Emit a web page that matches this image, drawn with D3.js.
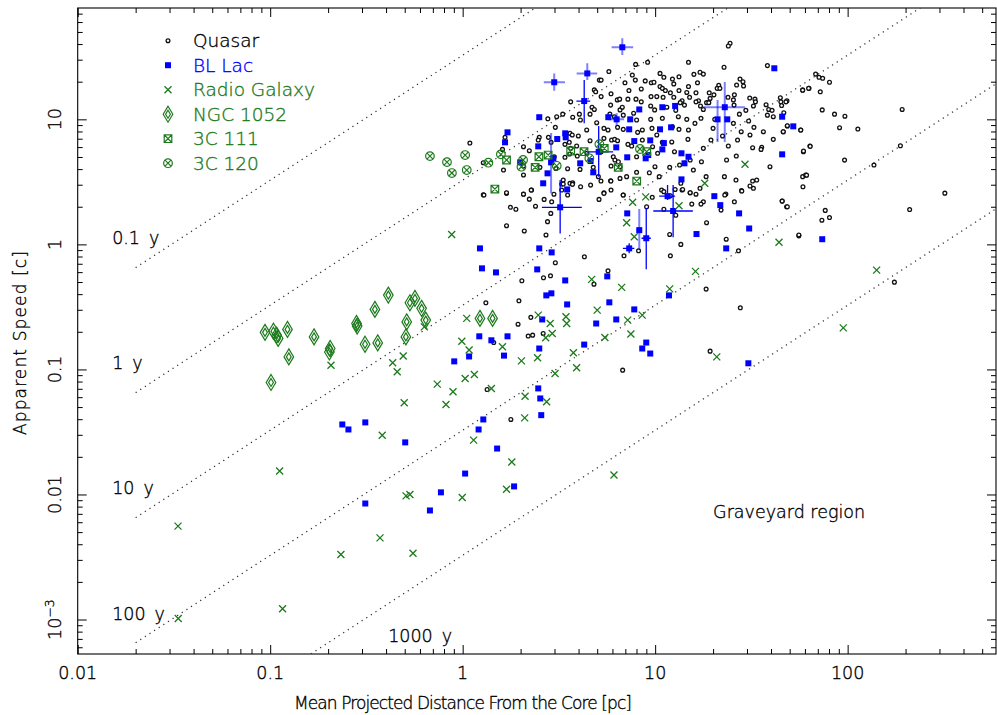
<!DOCTYPE html>
<html><head><meta charset="utf-8">
<script src="https://cdn.jsdelivr.net/npm/d3@7"></script>
<style>
body{margin:0;background:#fff;}
svg text{font-family:"DejaVu Sans",sans-serif;font-weight:200;stroke:currentColor;stroke-width:0.35px;}
</style></head><body>
<svg id="c" width="997" height="715"></svg>
<script>
// ---------- DATA: [mean projected distance (pc), apparent speed (c)] ----------
const quasars = [
[24.5,40.6],[24.0,38.6],[7.92,27.5],[9.14,28.6],[14.9,28.6],[38.3,26.9],[22.8,26.1],[5.75,24.1],[7.61,22.6],[10.6,23.3],
[13.3,21.9],[15.9,22.9],[17.1,23.8],[17.8,23.0],[27.6,21.0],[28.6,20.0],[68.2,23.0],[5.13,20.6],[5.24,20.6],[6.97,19.6],
[7.89,20.6],[8.88,20.3],[9.55,19.6],[9.86,19.8],[11.1,21.7],[12.3,21.0],[12.5,19.2],[14.9,18.3],[16.6,19.6],[21.4,18.7],
[21.0,17.7],[21.7,17.7],[26.5,18.8],[28.8,18.5],[4.83,17.2],[4.91,16.6],[5.90,16.0],[7.31,17.0],[8.47,17.5],[10.6,18.3],
[10.9,17.7],[11.3,17.0],[13.3,17.0],[14.6,16.4],[16.3,16.3],[19.1,16.3],[20.2,15.7],[25.8,15.7],[31.0,14.8],[33.0,14.5],
[44.7,14.9],[58.4,17.2],[63.0,17.7],[5.24,15.2],[6.36,14.3],[6.54,14.5],[7.22,14.5],[7.95,14.5],[8.47,13.8],[9.52,15.2],
[10.2,15.2],[11.0,15.0],[12.0,16.3],[12.5,15.0],[13.8,14.1],[15.1,15.0],[16.8,14.1],[18.5,13.6],[19.3,14.7],[23.9,15.0],
[25.5,14.3],[33.2,13.8],[45.0,13.8],[48.4,14.1],[3.64,13.8],[4.04,11.0],[4.70,12.5],[4.83,12.0],[5.87,13.0],[6.57,11.9],
[6.75,12.5],[9.48,12.8],[9.94,11.9],[11.5,12.5],[12.8,11.8],[13.5,13.6],[14.2,13.0],[16.3,13.8],[17.2,12.8],[17.8,12.0],
[19.0,13.6],[25.7,13.0],[29.6,11.8],[32.4,12.8],[37.7,13.1],[38.9,12.0],[40.5,11.8],[45.4,12.9],[2.77,10.1],[3.08,10.5],
[3.31,11.0],[3.73,10.4],[4.09,9.88],[4.59,11.0],[5.82,11.0],[6.14,10.5],[6.83,10.8],[7.73,11.2],[8.01,9.88],[9.48,10.0],
[10.9,10.2],[13.2,10.5],[14.6,10.0],[17.3,10.2],[20.4,10.0],[27.4,11.0],[30.6,9.70],[38.3,10.8],[41.1,10.5],[48.6,8.85],
[2.50,7.18],[2.79,7.18],[3.03,8.63],[3.61,7.73],[3.71,7.50],[3.99,7.36],[4.41,8.22],[4.97,9.40],[5.42,8.47],[5.69,8.22],
[6.38,8.63],[6.83,8.32],[8.11,7.87],[8.58,8.22],[9.63,8.47],[10.2,7.50],[12.3,8.73],[13.3,8.32],[14.9,8.22],[16.1,9.29],
[20.0,8.47],[22.4,7.36],[25.5,9.29],[28.0,7.96],[31.1,7.50],[32.6,8.63],[36.5,7.96],[41.1,6.92],[46.3,7.96],[57.0,8.22],
[1.66,7.18],[2.07,6.04],[2.47,6.83],[2.88,6.55],[3.40,6.31],[3.58,6.55],[3.64,5.86],[3.91,6.12],[4.59,6.75],[5.42,7.05],
[5.94,6.83],[6.16,6.92],[6.38,6.75],[7.22,6.31],[7.55,6.12],[8.58,6.83],[9.70,6.04],[10.9,6.55],[12.2,6.59],[14.8,6.92],
[17.8,5.86],[19.5,6.83],[24.0,6.12],[26.8,6.83],[32.1,5.93],[35.8,5.97],[63.7,6.12],[58.9,5.51],[1.61,5.75],[2.22,5.61],
[2.99,5.02],[3.40,4.97],[3.59,5.28],[3.94,5.09],[4.42,5.35],[5.24,5.51],[6.06,5.02],[6.18,4.73],[6.44,4.58],[8.01,5.02],
[10.3,5.35],[12.6,5.51],[13.7,5.35],[15.2,4.73],[17.4,4.58],[26.4,5.09],[35.5,5.75],[1.28,4.50],[1.63,3.93],[2.07,4.23],
[2.52,4.13],[3.05,4.05],[3.51,4.03],[4.07,3.98],[4.77,4.13],[5.90,4.23],[6.57,4.18],[8.01,3.77],[9.98,4.18],[11.9,4.13],
[13.4,4.31],[15.8,3.93],[23.5,4.73],[39.5,4.18],[2.07,3.59],[3.27,3.04],[3.33,3.27],[3.61,3.08],[3.73,3.11],[5.07,3.48],
[5.87,3.23],[6.57,3.37],[7.11,3.48],[9.33,3.74],[10.5,3.48],[13.6,3.08],[18.4,3.48],[22.9,3.48],[26.3,3.27],[33.7,3.27],
[58.4,3.48],[60.5,3.59],[1.28,2.49],[1.69,2.56],[2.07,2.53],[2.28,2.72],[3.27,2.72],[3.51,2.48],[4.10,2.89],[5.42,2.59],
[5.90,2.72],[6.83,2.48],[10.8,2.72],[12.7,2.75],[13.8,2.72],[15.2,2.59],[17.1,2.81],[23.3,2.53],[28.1,2.69],[32.4,2.81],
[1.29,2.48],[1.69,2.59],[2.07,2.52],[2.22,2.30],[2.27,2.72],[2.39,2.02],[2.65,2.29],[2.90,2.19],[2.98,2.52],[3.33,3.04],
[3.72,3.02],[4.62,2.98],[5.23,3.21],[5.89,3.21],[5.11,2.29],[5.42,2.56],[6.82,2.48],[1.77,1.98],[1.89,1.91],[1.69,1.41],
[2.09,1.28],[2.76,1.52],[2.87,1.77],[2.71,1.19],[4.29,0.796],[3.03,0.713],[5.69,0.615],[4.81,0.481],[2.86,0.561],[2.63,0.541],
[2.03,0.512],[1.96,0.354],[1.32,0.341],[2.26,0.261],[1.94,0.230],[2.19,0.185],[2.31,0.188],[2.62,0.194],[1.45,0.164],[6.78,0.0987],
[6.89,0.811],[8.20,0.889],[9.03,2.00],[9.66,2.38],[11.1,2.64],[12.0,2.45],[13.9,2.75],[15.2,2.59],[16.3,2.52],[15.5,2.10],
[17.8,2.19],[17.3,2.10],[23.0,2.48],[25.8,2.19],[28.2,2.67],[31.1,2.93],[32.1,3.21],[22.0,1.88],[18.5,1.49],[23.4,1.10],
[27.1,0.889],[11.9,1.20],[13.6,1.00],[12.0,0.811],[18.4,0.439],[27.7,0.311],[19.3,0.140],[45.7,2.22],[48.2,2.00],[55.8,1.17],
[11.1,1.91],[12.8,1.71],[71.0,21.7],[74.2,21.3],[80.5,19.8],[58.4,17.1],[62.7,17.7],[72.1,16.6],[47.8,13.8],[46.6,11.3],
[73.8,11.9],[85.5,11.0],[96.8,10.6],[48.6,8.89],[46.3,7.96],[57.1,8.21],[90.8,8.57],[113,8.36],[192,12.0],[59.0,5.57],
[63.9,6.08],[96.4,4.72],[61.2,3.58],[58.6,2.89],[45.7,2.22],[48.6,2.00],[76.5,1.87],[80.5,1.64],[73.5,1.56],[55.8,1.19],
[188,6.15],[137,4.31],[320,2.57],[210,1.90],[175,0.499],[1.09,6.46],[1.34,0.0691],[1.78,0.0398]
];
const blLacs = [
[6.75,37.7],[4.44,23.3],[2.99,19.8],[4.28,14.0],[41.6,25.6],[2.50,10.4],[1.71,7.87],[1.66,6.55],[2.47,6.08],[3.10,6.96],
[3.41,7.73],[3.43,7.18],[5.71,10.4],[6.31,10.0],[7.42,10.0],[8.27,12.0],[10.9,12.5],[12.7,12.8],[10.6,8.32],[12.1,8.63],
[7.33,8.32],[7.79,6.70],[9.43,6.79],[11.1,6.46],[10.9,5.75],[6.28,5.97],[5.09,5.50],[7.16,4.97],[8.93,4.88],[9.21,5.18],
[13.7,5.35],[14.9,5.02],[14.2,4.45],[23.0,12.5],[21.1,10.0],[23.7,10.0],[45.7,10.5],[52.2,8.79],[45.7,5.25],[13.7,3.31],
[20.3,2.43],[11.6,2.43],[2.96,4.88],[2.88,4.53],[2.76,3.70],[2.62,3.08],[3.49,2.75],[4.08,4.45],[4.62,4.64],[4.77,3.77],
[1.99,4.53],[3.21,1.98],[21.8,2.06],[27.3,1.77],[30.8,1.34],[16.4,1.21],[23.4,0.929],[7.16,1.77],[8.27,1.30],[8.99,1.12],
[7.33,0.929],[12.4,1.85],[2.50,0.929],[2.90,0.863],[1.23,0.929],[1.26,0.643],[1.49,0.597],[2.44,0.631],[3.41,0.515],[5.64,0.555],
[2.72,0.391],[2.89,0.406],[3.49,0.331],[5.78,0.344],[7.79,0.302],[11.8,0.391],[2.59,0.251],[4.94,0.233],[6.28,0.251],[1.22,0.184],
[1.41,0.171],[1.71,0.184],[2.50,0.147],[1.64,0.129],[1.08,0.127],[0.904,0.116],[4.28,0.158],[8.99,0.164],[8.57,0.147],[9.43,0.134],
[30.5,0.112],[0.237,0.0363],[0.255,0.0331],[0.312,0.0377],[0.503,0.0261],[0.312,0.00847],[0.676,0.00745],[0.771,0.0104],[1.03,0.0147],[1.28,0.0398],
[1.21,0.0331],[1.51,0.0233],[1.85,0.0116],[2.47,0.0705],[2.53,0.0586],[2.56,0.0431],[73.8,1.10]
];
// BL Lac error bars: [d, speed, dLow, dHigh, speedLow, speedHigh]
const blLacErrorsFaint = [
[6.75,37.7,5.94,7.69,32.7,44.5],[4.44,23.3,3.91,5.0,20.6,28.1],[2.99,19.8,2.64,3.40,16.9,23.3],
[6.31,10.0,5.7,6.9,8.9,11.2],[23.0,12.5,17.7,29.3,6.58,19.9],[21.1,10.0,20.5,21.7,6.58,14.3],
[2.88,4.53,2.8,2.96,2.57,7.76],[8.27,1.30,8.0,8.5,0.90,1.92]
];
const blLacErrorsSolid = [
[4.28,14.0,3.9,4.6,9.29,20.6],[5.09,5.50,4.41,6.05,3.47,8.84],[3.21,1.98,2.58,4.16,1.22,3.27],
[8.99,1.12,8.5,9.5,0.634,1.95],[7.33,0.929,6.8,7.8,0.85,1.02],[12.4,1.85,9.78,15.7,1.14,2.98],
[11.6,2.43,10.5,12.7,2.26,2.99]
];
const radioGalaxies = [
[0.877,1.20],[4.68,0.525],[6.70,0.453],[5.00,0.298],[7.20,0.248],[8.57,0.272],[7.48,0.192],[5.48,0.180],[3.44,0.264],[3.47,0.233],
[2.85,0.233],[2.47,0.272],[2.92,0.194],[2.70,0.179],[3.76,0.136],[3.91,0.103],[3.02,0.0929],[2.45,0.124],[2.02,0.117],[1.61,0.152],
[1.08,0.143],[0.99,0.168],[1.05,0.256],[1.15,0.0912],[1.03,0.0847],[0.491,0.128],[11.9,0.441],[16.2,0.608],[44.0,1.04],[20.9,0.126],
[7.11,1.49],[7.79,1.15],[7.64,2.17],[8.93,2.40],[13.3,2.04],[18.1,3.08],[0.632,0.219],[29.3,4.37],[0.457,0.0957],[0.738,0.0763],
[0.891,0.0662],[1.41,0.0705],[0.497,0.0541],[0.819,0.0525],[2.11,0.0611],[2.73,0.0551],[2.10,0.0410],[0.382,0.0298],[1.14,0.0272],[1.80,0.0182],
[1.69,0.0110],[0.508,0.00975],[0.532,0.0100],[0.995,0.00946],[0.112,0.0154],[0.0332,0.00558],[0.372,0.00450],[0.233,0.00331],[0.552,0.00339],[0.116,0.00122],
[0.0333,0.00102],[0.207,0.108],[0.433,0.113],[141.5,0.623],[94.9,0.215],[6.11,0.0143]
];
const ngc1052 = [
[0.094,0.198],[0.104,0.202],[0.108,0.188],[0.110,0.177],[0.123,0.209],[0.125,0.126],[0.101,0.0787],[0.169,0.182],[0.205,0.147],[0.203,0.138],
[0.281,0.233],[0.283,0.222],[0.311,0.159],[0.350,0.302],[0.362,0.163],[0.411,0.393],[0.512,0.240],[0.507,0.182],[0.532,0.341],[0.565,0.370],
[0.612,0.308],[0.643,0.248],[1.23,0.256],[1.43,0.256]
];
const c3c111 = [
[1.47,2.77],[1.69,4.73],[2.38,4.13],[2.49,5.02],[2.78,5.18],[3.64,5.58],[4.27,5.51],[5.44,5.86],[6.43,4.13],[8.02,3.21],[9.04,5.51]
];
const c3c120 = [
[0.676,5.08],[0.829,4.55],[0.879,3.72],[1.03,5.18],[1.05,3.93],[1.36,4.50],[1.58,5.25],[2.02,4.18],[2.06,4.73],[3.08,4.25],
[4.55,4.88],[5.13,6.34],[8.34,5.79]
];
// reference lines of constant time (years): speed = d[pc] * 3.2616 / t
const lineTimes = [0.1, 1, 10, 100, 1000];
const lineLabels = ["0.1", "1", "10", "100", "1000"];
const xTickValues = [0.01, 0.1, 1, 10, 100];
const xTickLabels = ["0.01", "0.1", "1", "10", "100"];
const yTickValues = [0.001, 0.01, 0.1, 1, 10];
const yTickLabels = ["10^-3", "0.01", "0.1", "1", "10"];
const legendNames = ["Quasar", "BL Lac", "Radio Galaxy", "NGC 1052", "3C 111", "3C 120"];

// ---------- LAYOUT ----------
const BLUE = "#0000ff", GREEN = "#1c7a1c";
const L = 77.7, R = 996, T = 8, B = 654;
const svg = d3.select("#c");
const x = d3.scaleLog().domain([0.01, 590]).range([L, R]);
const y = d3.scaleLog().domain([5.3e-4, 77.7]).range([B, T]);

svg.append("defs").append("clipPath").attr("id", "plot")
  .append("rect").attr("x", L).attr("y", T).attr("width", R - L).attr("height", B - T);

function minors(scale) {
  const [a, b] = scale.domain(); const out = [];
  for (let e = Math.floor(Math.log10(a)); e <= Math.ceil(Math.log10(b)); e++)
    for (let k = 2; k <= 9; k++) { const v = k * Math.pow(10, e); if (v > a && v < b) out.push(v); }
  return out;
}
const xMin = minors(x), yMin = minors(y);
function axisG(gen, tr) {
  const g = svg.append("g").attr("transform", tr).call(gen);
  g.select(".domain").remove();
  g.selectAll("line").attr("stroke", "#000").attr("stroke-width", 1);
  return g;
}
axisG(d3.axisBottom(x).tickValues(xTickValues).tickSize(-9).tickFormat(""), `translate(0,${B})`);
axisG(d3.axisBottom(x).tickValues(xMin).tickSize(-5).tickFormat(""), `translate(0,${B})`);
axisG(d3.axisTop(x).tickValues(xTickValues).tickSize(-9).tickFormat(""), `translate(0,${T})`);
axisG(d3.axisTop(x).tickValues(xMin).tickSize(-5).tickFormat(""), `translate(0,${T})`);
axisG(d3.axisLeft(y).tickValues(yTickValues).tickSize(-9).tickFormat(""), `translate(${L},0)`);
axisG(d3.axisLeft(y).tickValues(yMin).tickSize(-5).tickFormat(""), `translate(${L},0)`);
axisG(d3.axisRight(y).tickValues(yTickValues).tickSize(-9).tickFormat(""), `translate(${R},0)`);
axisG(d3.axisRight(y).tickValues(yMin).tickSize(-5).tickFormat(""), `translate(${R},0)`);
svg.append("rect").attr("x", L).attr("y", T).attr("width", R - L).attr("height", B - T)
  .attr("fill", "none").attr("stroke", "#000").attr("stroke-width", 1.1);

// tick labels
svg.append("g").selectAll("text").data(xTickValues).join("text")
  .attr("x", d => x(d)).attr("y", 679).attr("text-anchor", "middle")
  .attr("font-size", 17.5).attr("fill", "#000").attr("color", "#000").text((d, i) => xTickLabels[i]);
const yl = svg.append("g").selectAll("text").data(yTickValues).join("text")
  .attr("transform", d => `translate(61,${y(d)}) rotate(-90)`).attr("text-anchor", "middle")
  .attr("font-size", 17.5).attr("fill", "#000").attr("color", "#000");
yl.each(function (d, i) {
  const t = d3.select(this), lab = yTickLabels[i];
  if (lab.includes("^")) {
    const [b, e] = lab.split("^");
    t.append("tspan").text(b);
    t.append("tspan").attr("dy", -7).attr("font-size", 12.5).text(e.replace("-", "\u2212"));
  } else t.text(lab);
});
// axis titles
svg.append("text").attr("x", 463).attr("y", 709).attr("text-anchor", "middle").attr("color", "#000")
  .attr("font-size", 17).attr("textLength", 338).attr("lengthAdjust", "spacing")
  .text("Mean Projected Distance From the Core [pc]");
svg.append("text").attr("transform", "translate(26,343) rotate(-90)").attr("text-anchor", "middle").attr("color", "#000")
  .attr("font-size", 17).attr("textLength", 184).attr("lengthAdjust", "spacing")
  .text("Apparent Speed [c]");

const plot = svg.append("g").attr("clip-path", "url(#plot)");
// constant-time lines
const lineGen = d3.line().x(p => x(p[0])).y(p => y(p[1]));
plot.append("g").selectAll("path").data(lineTimes).join("path")
  .attr("d", t => lineGen([[0.02, 0.02 * 3.2616 / t], [590, 590 * 3.2616 / t]]))
  .attr("fill", "none").attr("stroke", "#333").attr("stroke-width", 1.3)
  .attr("stroke-dasharray", "1.2,4.3");
// line labels
const labPos = [[0.0151, 1], [0.0151, 0.1], [0.0151, 0.01], [0.0151, 0.001], [0.41, 6.6e-4]];
lineTimes.forEach((t, i) => {
  const tx = svg.append("text").attr("x", x(labPos[i][0])).attr("y", y(labPos[i][1]))
    .attr("font-size", 17.5).attr("fill", "#000").attr("color", "#000");
  tx.append("tspan").text(lineLabels[i]);
  tx.append("tspan").attr("dx", 9).text("y");
});
svg.append("text").attr("x", x(20)).attr("y", y(0.0065)).attr("font-size", 17.5).attr("color", "#000").text("Graveyard region");

// symbols
const sym = {
  quasar: g => g.append("circle").attr("r", 1.9).attr("fill", "#fff").attr("stroke", "#111").attr("stroke-width", 1.3),
  bllac: g => g.append("rect").attr("x", -3).attr("y", -3).attr("width", 6).attr("height", 6).attr("fill", BLUE),
  rg: g => g.append("path").attr("d", "M-3.5,-3.5L3.5,3.5M-3.5,3.5L3.5,-3.5").attr("stroke", GREEN).attr("stroke-width", 1.3).attr("fill", "none"),
  ngc: g => g.append("path").attr("d", "M0,-8L4.8,0L0,8L-4.8,0ZM0,-4L2.4,0L0,4L-2.4,0Z").attr("stroke", GREEN).attr("stroke-width", 1.2).attr("fill", "none"),
  c111: g => g.append("path").attr("d", "M-3.8,-3.8H3.8V3.8H-3.8ZM-3.8,-3.8L3.8,3.8M-3.8,3.8L3.8,-3.8").attr("stroke", GREEN).attr("stroke-width", 1.2).attr("fill", "none"),
  c120: g => { g.append("circle").attr("r", 4.3).attr("stroke", GREEN).attr("stroke-width", 1.2).attr("fill", "none");
    g.append("path").attr("d", "M-3,-3L3,3M-3,3L3,-3").attr("stroke", GREEN).attr("stroke-width", 1.2); }
};
function drawSeries(data, s) {
  plot.append("g").selectAll("g").data(data).join("g")
    .attr("transform", d => `translate(${x(d[0])},${y(d[1])})`)
    .each(function () { sym[s](d3.select(this)); });
}
drawSeries(quasars, "quasar");
// error bars
function errBars(data, op, w) {
  const eb = plot.append("g").attr("stroke", BLUE).attr("stroke-opacity", op).attr("stroke-width", w);
  eb.selectAll("line.h").data(data).join("line").attr("class", "h")
    .attr("x1", d => x(d[2])).attr("x2", d => x(d[3])).attr("y1", d => y(d[1])).attr("y2", d => y(d[1]));
  eb.selectAll("line.v").data(data).join("line").attr("class", "v")
    .attr("x1", d => x(d[0])).attr("x2", d => x(d[0])).attr("y1", d => y(d[4])).attr("y2", d => y(d[5]));
}
errBars(blLacErrorsFaint, 0.5, 2);
errBars(blLacErrorsSolid, 1, 1.3);
drawSeries(blLacs, "bllac");
drawSeries(radioGalaxies, "rg");
drawSeries(ngc1052, "ngc");
drawSeries(c3c111, "c111");
drawSeries(c3c120, "c120");

// legend
const legSyms = ["quasar", "bllac", "rg", "ngc", "c111", "c120"];
const legCols = ["#000", BLUE, GREEN, GREEN, GREEN, GREEN];
legendNames.forEach((n, i) => {
  const cy = 40.7 + i * 24.5;
  sym[legSyms[i]](svg.append("g").attr("transform", `translate(168,${cy})`));
  svg.append("text").attr("x", 193).attr("y", cy + 6.5).attr("font-size", 18.5)
    .attr("fill", legCols[i]).attr("color", legCols[i]).text(n);
});
</script></body></html>
